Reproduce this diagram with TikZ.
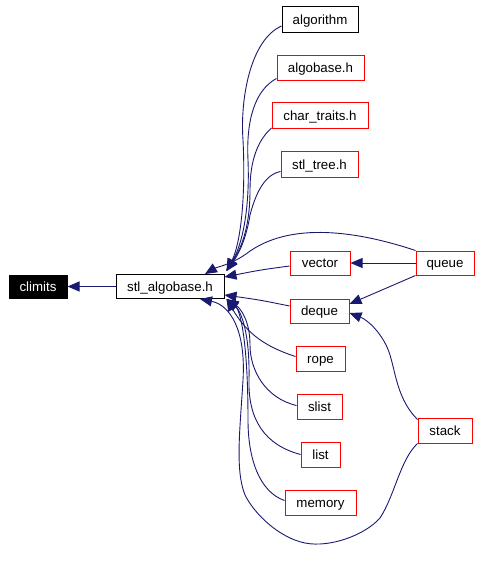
\documentclass[tikz,border=0pt]{standalone}
\usepackage{fontspec}
\setmainfont{Liberation Sans}
\usetikzlibrary{arrows.meta}
\definecolor{edgeblue}{RGB}{25,25,112}
\begin{document}
\begin{tikzpicture}[x=1pt, y=-1pt, every node/.style={rectangle, draw=red, line width=1pt, inner sep=0pt, minimum height=25pt, text height=10pt, text depth=1pt, font=\fontsize{13.3}{16}\selectfont}, >={Triangle[length=12pt,width=10pt]}, edge/.style={->, edgeblue, line width=0.9pt}]
        \useasboundingbox (0,0) rectangle (482,572);
        \node[fill=black, draw=black, text=white, minimum width=58pt, minimum height=23pt] (climits) at (38, 286.5) {climits};
        \node[draw=black, minimum width=108pt, minimum height=24pt] (sa) at (170, 286.5) {stl\_algobase.h};
        \node[draw=black, minimum width=76pt, minimum height=26pt] (algorithm) at (320, 20) {algorithm};
        \node[minimum width=87pt] (algobase) at (320.5, 68.5) {algobase.h};
        \node[minimum width=96pt, minimum height=26pt] (chartraits) at (320, 116) {char\_traits.h};
        \node[minimum width=77pt] (stltree) at (319.5, 164.5) {stl\_tree.h};
        \node[minimum width=60pt, minimum height=24pt] (vector) at (320, 263) {vector};
        \node[minimum width=58pt, minimum height=24pt] (queue) at (445, 263) {queue};
        \node[minimum width=59pt, minimum height=24pt] (deque) at (319.5, 311) {deque};
        \node[minimum width=49pt] (rope) at (320.5, 358.5) {rope};
        \node[minimum width=45pt] (slist) at (319.5, 406.5) {slist};
        \node[minimum width=39pt] (list) at (320.5, 454.5) {list};
        \node[minimum width=71pt] (memory) at (320.5, 502.5) {memory};
        \node[minimum width=54pt] (stack) at (445, 430.5) {stack};
        \draw[edge] (sa.west) -- (climits.east);
        \draw[edge] ([yshift=-6pt]algorithm.west) .. controls (250,40) and (240,100) .. (243,140) .. controls (246,200) and (240,245) .. ([xshift=2pt,yshift=3pt]sa.north east);
        \draw[edge] ([yshift=-10pt]algobase.west) .. controls (255,90) and (246,120) .. (248,160) .. controls (250,210) and (242,245) .. ([xshift=2pt,yshift=3pt]sa.north east);
        \draw[edge] ([yshift=-12pt]chartraits.west) .. controls (258,140) and (250,160) .. (250,190) .. controls (250,230) and (240,250) .. ([xshift=2pt,yshift=3pt]sa.north east);
        \draw[edge] ([yshift=-7pt]stltree.west) .. controls (262,175) and (254,200) .. (250,215) .. controls (246,240) and (238,255) .. ([xshift=2pt,yshift=3pt]sa.north east);
        \draw[edge] (queue.north west) .. controls (360,232) and (290,220) .. (246,254) .. controls (232,264) and (215,268) .. ([xshift=35pt]sa.north);
        \draw[edge] ([yshift=-3pt]vector.west) .. controls (260,270) .. ([yshift=-3pt]sa.north east);
        \draw[edge] ([yshift=5pt]deque.west) .. controls (260,300) .. ([yshift=4pt]sa.south east);
        \draw[edge] (queue.west) -- (vector.east);
        \draw[edge] (queue.south west) -- ([yshift=7pt]deque.east);
        \draw[edge] ([yshift=11pt]stack.west) .. controls (398,400) and (396,375) .. (390,355) .. controls (384,335) and (368,320) .. ([yshift=-2pt]deque.east);
        \draw[edge] (stack.south west) .. controls (400,460) and (395,495) .. (380,518) .. controls (365,535) and (330,548) .. (305,543) .. controls (280,538) and (255,515) .. (245,495) .. controls (235,470) and (240,430) .. (243,380) .. controls (246,330) and (230,305) .. ([xshift=30pt]sa.south);
        \draw[edge] ([yshift=2pt]rope.west) .. controls (260,345) and (245,330) .. ([xshift=2pt]sa.south east);
        \draw[edge] ([yshift=1pt]slist.west) .. controls (265,398) and (250,370) .. (250,345) .. controls (250,320) and (240,308) .. ([xshift=2pt]sa.south east);
        \draw[edge] (list.west) .. controls (265,445) and (248,420) .. (249,380) .. controls (250,330) and (240,310) .. ([xshift=2pt]sa.south east);
        \draw[edge] ([yshift=2pt]memory.west) .. controls (260,492) and (248,460) .. (248,420) .. controls (248,340) and (240,310) .. ([xshift=2pt]sa.south east);
    \end{tikzpicture}
\end{document}
